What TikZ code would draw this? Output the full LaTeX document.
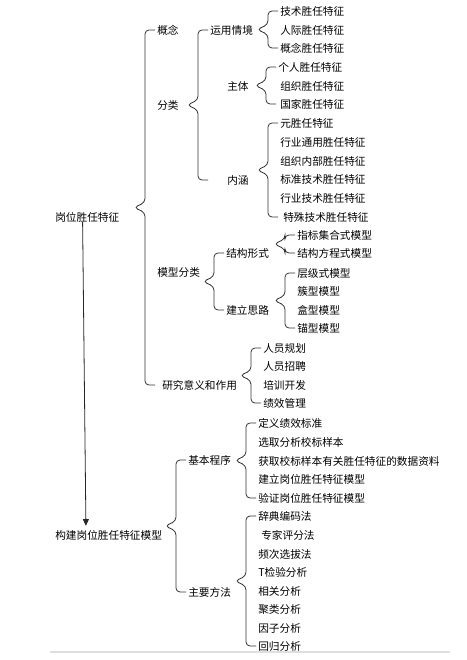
\documentclass[tikz,border=0pt]{standalone}
\usepackage{fontspec}
\newfontfamily\cjk{Noto Sans CJK SC}
\usetikzlibrary{arrows.meta,calc}

\tikzset{
  lbl/.style={anchor=west, inner sep=0pt,
    font=\cjk\fontsize{8}{9}\selectfont},
  brc/.style={draw=black!80, line width=0.6pt,
    rounded corners=3pt},
  arrow/.style={-{Triangle[length=5pt, width=4.5pt]},
    line width=0.6pt, black!85}
}

% curly brace in front of a column of nodes: top node, bottom node
\newcommand{\brc}[2]{%
  \draw[brc] ([xshift=-1.5pt]#1.west)
    -- ($(#1.west)+(-12,0)$)
    -- ($(#1.west)!.5!(#2.west -| #1.west)+(-12,-5)$)
    -- ($(#1.west)!.5!(#2.west -| #1.west)+(-23,0)$)
    -- ($(#1.west)!.5!(#2.west -| #1.west)+(-12,5)$)
    -- ($(#2.west -| #1.west)+(-12,0)$)
    -- ([xshift=-1.5pt]#2.west -| #1.west);
}

\begin{document}
\begin{tikzpicture}[x=0.75pt, y=-0.75pt]
\useasboundingbox (0,0) rectangle (467,660);

% first part
\node[lbl] (root) at (55,217) {岗位胜任特征};

\node[lbl] (gn) at (157,30) {概念};
\node[lbl] (fl) at (157,105) {分类};
\node[lbl] (mx) at (157,272) {模型分类};
\node[lbl] (yj) at (162,385) {研究意义和作用};

\node[lbl] (yy) at (210,30) {运用情境};
\node[lbl] (zt) at (227,86) {主体};
\node[lbl] (nh) at (227,180) {内涵};

\node[lbl] (js) at (280,11) {技术胜任特征};
\node[lbl] (rj) at (280,30) {人际胜任特征};
\node[lbl] (gnt) at (280,48) {概念胜任特征};

\node[lbl] (gr) at (278,67) {个人胜任特征};
\node[lbl] (zz) at (280,86) {组织胜任特征};
\node[lbl] (gj) at (280,104) {国家胜任特征};

\node[lbl] (nh1) at (280,123) {元胜任特征};
\node[lbl] (nh2) at (280,142) {行业通用胜任特征};
\node[lbl] (nh3) at (280,161) {组织内部胜任特征};
\node[lbl] (nh4) at (280,179) {标准技术胜任特征};
\node[lbl] (nh5) at (280,198) {行业技术胜任特征};
\node[lbl] (nh6) at (283,217) {特殊技术胜任特征};

\node[lbl] (jg) at (226,253) {结构形式};
\node[lbl] (jl) at (226,310) {建立思路};

\node[lbl] (zb) at (297,235) {指标集合式模型};
\node[lbl] (jf) at (297,253) {结构方程式模型};

\node[lbl] (cj) at (297,273) {层级式模型};
\node[lbl] (cx) at (297,291) {簇型模型};
\node[lbl] (hx) at (297,310) {盒型模型};
\node[lbl] (mg) at (297,328) {锚型模型};

\node[lbl] (ry1) at (263,348) {人员规划};
\node[lbl] (ry2) at (263,366) {人员招聘};
\node[lbl] (px) at (263,385) {培训开发};
\node[lbl] (jx) at (263,403) {绩效管理};

\brc{gn}{yj}
\brc{yy}{nh}
\brc{js}{gnt}
\brc{gr}{gj}
\brc{nh1}{nh6}
\brc{jg}{jl}
\brc{zb}{jf}
\brc{cj}{mg}
\brc{ry1}{jx}

% second part
\node[lbl] (model) at (55,535) {构建岗位胜任特征模型};
\draw[arrow] ([xshift=-3.5pt]root.south)
  -- ([xshift=-17pt, yshift=3pt]model.north);

\node[lbl] (jb) at (188,460) {基本程序};
\node[lbl] (zy) at (188,592) {主要方法};

\node[lbl] (jb1) at (258,423) {定义绩效标准};
\node[lbl] (jb2) at (258,442) {选取分析校标样本};
\node[lbl] (jb3) at (258,461) {获取校标样本有关胜任特征的数据资料};
\node[lbl] (jb4) at (258,479) {建立岗位胜任特征模型};
\node[lbl] (jb5) at (258,498) {验证岗位胜任特征模型};

\node[lbl] (ff1) at (258,516) {辞典编码法};
\node[lbl] (ff2) at (261,535) {专家评分法};
\node[lbl] (ff3) at (258,554) {频次选拔法};
\node[lbl] (ff4) at (258,572) {T检验分析};
\node[lbl] (ff5) at (258,591) {相关分析};
\node[lbl] (ff6) at (258,609) {聚类分析};
\node[lbl] (ff7) at (258,628) {因子分析};
\node[lbl] (ff8) at (258,646) {回归分析};

\brc{jb}{zy}
\brc{jb1}{jb5}
\brc{ff1}{ff8}

\draw[gray!25, line width=1.5pt] (50,652) -- (450,652);

\end{tikzpicture}
\end{document}
